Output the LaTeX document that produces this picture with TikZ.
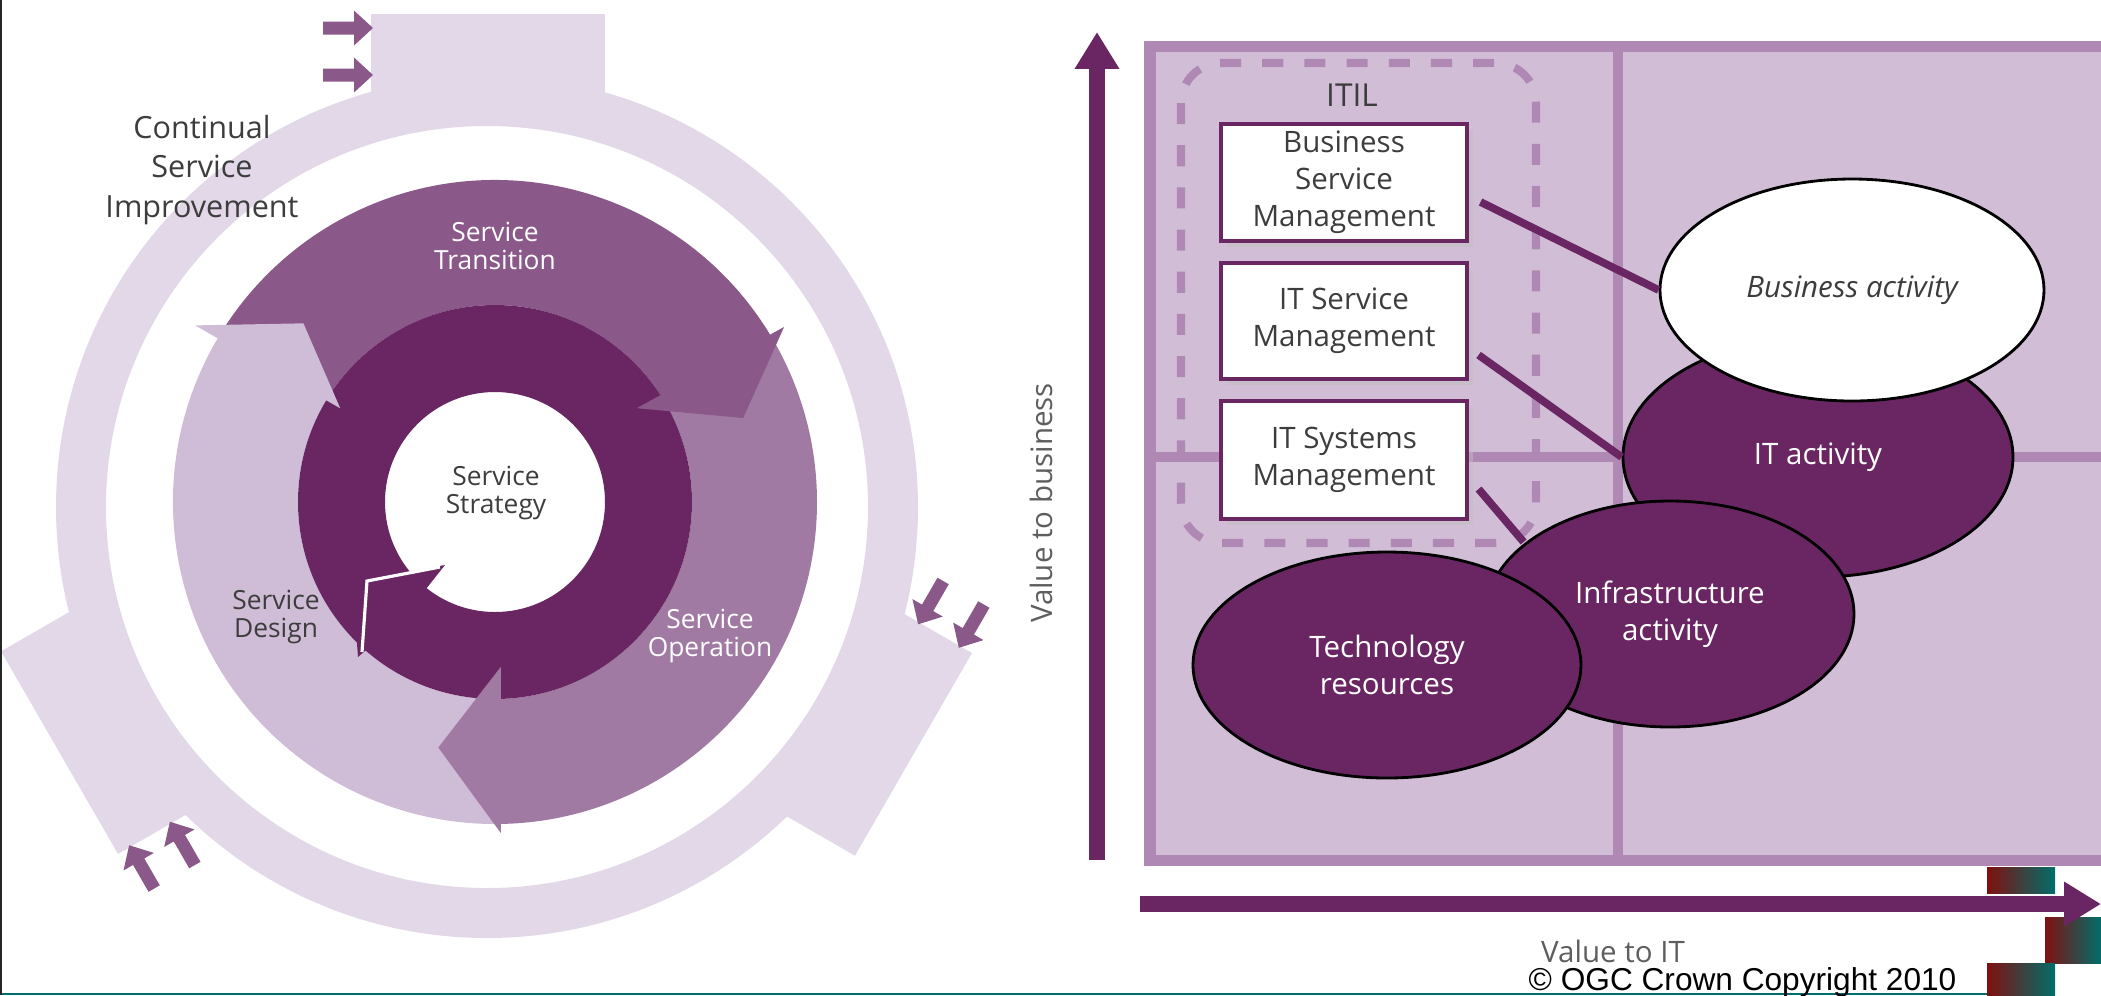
\documentclass[tikz,border=0pt]{standalone}
\usepackage{fontspec}
\setmainfont{Open Sans}
\newfontfamily\arialfont{Liberation Sans}
\usetikzlibrary{shapes.geometric,arrows.meta,shadows}

\definecolor{csiring}{HTML}{E2D8E8}
\definecolor{designc}{HTML}{CFBCD6}
\definecolor{transc}{HTML}{8A5889}
\definecolor{operc}{HTML}{A07AA2}
\definecolor{corec}{HTML}{6A2662}
\definecolor{quadfill}{HTML}{D1BDD6}
\definecolor{quadline}{HTML}{AF89B4}
\definecolor{labelgrey}{HTML}{3D3D3D}
\definecolor{axisgrey}{HTML}{5E5E5E}
\definecolor{slidered}{HTML}{7F1010}
\definecolor{slideteal}{HTML}{006E69}

\tikzset{
  ringlabel/.style={align=center,inner sep=0pt,font=\fontsize{7.5}{8}\selectfont},
  mgmtbox/.style={draw=corec,line width=0.9pt,fill=white,minimum width=2.46cm,inner sep=0pt,
    align=center,text=labelgrey,font=\fontsize{8.4}{10.5}\selectfont,
    drop shadow={shadow xshift=0.6mm,shadow yshift=-0.6mm,fill=black!25}},
  activity/.style={ellipse,draw=black,line width=0.8pt,fill=corec,inner sep=0pt,align=center,
    text=white,font=\fontsize{8.4}{10.5}\selectfont},
  link/.style={draw=corec,line width=2.2pt},
  axis/.style={draw=corec,line width=4.3pt,-{Triangle[width=12pt,length=10.5pt]}},
  itilbox/.style={draw=quadline,line width=2.3pt,rounded corners=4mm,dash pattern=on 6pt off 6pt},
  tabarrow/.style={fill=transc}
}

\begin{document}
\begin{tikzpicture}[x=1mm,y=1mm]
	\useasboundingbox (0,0) rectangle (210.1,-99.5);
	\coordinate (csi) at (48.7,-50.7);
	\coordinate (hub) at (49.5,-50.2);

	\fill[csiring, even odd rule] (csi) circle (43.1) (csi) circle (38.1);
	\foreach \turn in {0,120,240} {
		\begin{scope}[rotate around={\turn:(csi)}]
			\fill[csiring] (37.1,-1.4) rectangle (60.5,-10.7);
			\foreach \ay in {2.8,7.5}
				\fill[tabarrow, shift={(0,-\ay)}] (32.3,0.65) -- (35.4,0.65) -- (35.4,1.75) -- (37.3,0)
					-- (35.4,-1.75) -- (35.4,-0.65) -- (32.3,-0.65) -- cycle;
		\end{scope}
	}

	\begin{scope}[shift={(hub)}]
		\fill[designc] (147:32.2) arc (147:272:32.2) -- (272:19.7) arc (272:147:19.7) -- cycle;
		\fill[transc] (30:32.2) arc (30:148.5:32.2) -- (148.5:19.7) arc (148.5:30:19.7) -- cycle;
		\fill[operc] (-90:32.2) arc (-90:30:32.2) -- (30:19.7) arc (30:-90:19.7) -- cycle;
		\fill[corec, even odd rule] (0,0) circle (19.7) (0,0) circle (11);
		\fill[designc] (149.5:34.8) -- (137:26.2) -- (148.8:18.1) -- cycle;
		\fill[transc] (31.2:33.8) -- (18.7:26.2) -- (33.5:17.0) -- cycle;
		\fill[operc] (-89:33.1) -- (-103:25.2) -- (-88:16.5) -- cycle;
	\end{scope}
	\fill[corec] (40.8,-57.2) -- (44.5,-56.5) -- (42.2,-59.4) -- cycle;
	\fill[corec] (35.6,-63) -- (35.8,-65.7) -- (37.2,-64.5) -- cycle;
	\draw[white, line width=0.9pt] (36.2,-65.2) -- (36.7,-58.1) -- (44,-56.7);

	\node[ringlabel, text=labelgrey, font=\fontsize{8.7}{11.3}\selectfont] (csilabel) at (20.2,-17) {Continual\\Service\\Improvement};
	\node[ringlabel, text=white] (transition) at (49.5,-24.6) {Service\\Transition};
	\node[ringlabel, text=labelgrey] (strategy) at (49.6,-49.3) {Service\\Strategy};
	\node[ringlabel, text=labelgrey] (design) at (27.6,-61.7) {Service\\Design};
	\node[ringlabel, text=white] (operation) at (71,-63.6) {Service\\Operation};

	\fill[quadline] (114.4,-4.1) rectangle (215,-86.6);
	\fill[quadfill] (115.6,-5.2) rectangle (215,-85.5);
	\fill[quadline] (161.3,-4.1) rectangle (162.3,-86.6);
	\fill[quadline] (114.4,-45.2) rectangle (215,-46.2);
	\draw[itilbox] (118.1,-6.3) rectangle (153.6,-54.3);
	\node[inner sep=0pt, text=labelgrey, font=\fontsize{9}{10}\selectfont] (itil) at (135.2,-9.5) {ITIL};

	\node[mgmtbox, minimum height=1.17cm] (bsm) at (134.4,-18.25) {Business\\Service\\Management};
	\node[mgmtbox, minimum height=1.16cm] (itsm) at (134.4,-32.1) {IT Service\\Management};
	\node[mgmtbox, minimum height=1.18cm] (itsys) at (134.4,-46) {IT Systems\\Management};

	\node[activity, minimum width=3.9cm, minimum height=2.4cm] (itact) at (181.8,-45.7) {IT activity};
	\node[activity, fill=white, text=labelgrey, font=\fontsize{8.4}{10.5}\selectfont\itshape,
		minimum width=3.84cm, minimum height=2.22cm] (biz) at (185.2,-29) {Business activity};
	\node[activity, minimum width=3.68cm, minimum height=2.26cm] (infra) at (167,-61.4) {Infrastructure\\activity};
	\node[activity, minimum width=3.88cm, minimum height=2.26cm] (tech) at (138.7,-66.5) {Technology\\resources};

	\draw[link] ([xshift=1.2mm,yshift=-1.95mm]bsm.east) -- (biz.west);
	\draw[link] ([xshift=1mm,yshift=-3.4mm]itsm.east) -- (itact.west);
	\draw[link, shorten >=0.4pt] ([xshift=1mm,yshift=-2.9mm]itsys.east) -- (infra.154);

	\shade[left color=slidered, right color=slideteal] (198.7,-86.7) rectangle (205.5,-89.3);
	\shade[left color=slidered, right color=slideteal] (204.5,-91.7) rectangle (210.1,-96.3);
	\shade[left color=slidered, right color=slideteal] (198.7,-96.3) rectangle (205.5,-99.5);
	\fill[slideteal] (0,-99.25) rectangle (198.7,-99.5);
	\fill[black!85] (0,0) rectangle (0.25,-99.5);

	\coordinate (ybase) at (109.7,-86);
	\coordinate (ytop) at (109.7,-3.2);
	\coordinate (xbase) at (114,-90.4);
	\coordinate (xend) at (210.1,-90.4);
	\draw[axis] (ybase) -- (ytop);
	\draw[axis] (xbase) -- (xend);
	\node[rotate=90, inner sep=0pt, text=axisgrey, font=\fontsize{8.4}{10}\selectfont] (vbiz) at (104.1,-50.3) {Value to business};
	\node[anchor=base, inner sep=0pt, text=axisgrey, font=\fontsize{8.4}{10}\selectfont] (vit) at (161.3,-96.2) {Value to IT};
	\node[anchor=base west, inner sep=0pt, font=\arialfont\fontsize{9}{10}\selectfont] (copyright) at (152.8,-99) {© OGC Crown Copyright 2010};
\end{tikzpicture}
\end{document}
